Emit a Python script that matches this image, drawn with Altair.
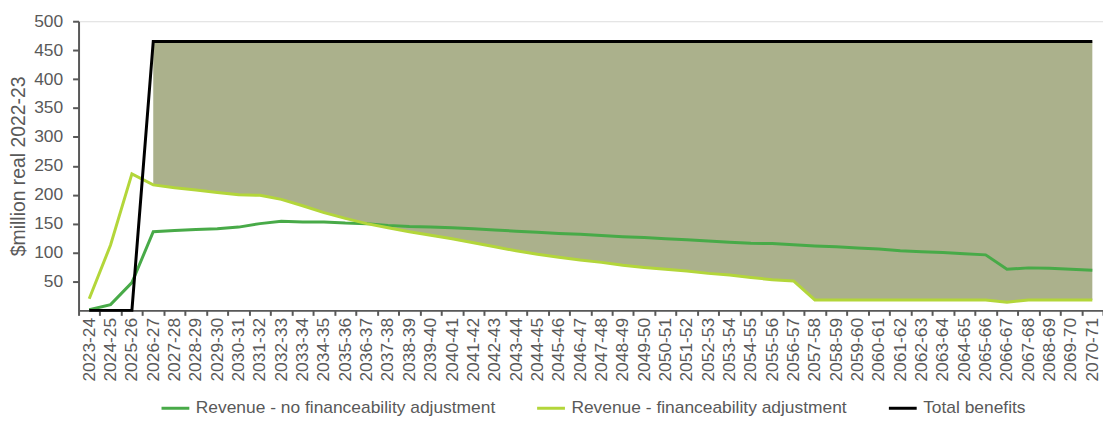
import altair as alt
import pandas as pd

years = [f"{y}-{str(y + 1)[-2:]}" for y in range(2023, 2071)]

no_adj = [1, 10, 48, 136, 138, 140, 141, 144, 150, 154, 153, 153, 151, 150, 147,
          145, 144, 143, 141, 139, 137, 135, 133, 131.5, 129.5, 127.5, 126, 124,
          122, 120, 118, 116, 115.5, 113.5, 111.5, 110, 108, 106, 103, 101.5, 100,
          98, 96, 71, 73.5, 73, 71, 69.5]

fin_adj = [20, 113, 236, 217, 212, 208, 204, 200, 199, 192, 181, 169, 159, 150, 143,
           136, 130, 124, 117, 110, 103, 97, 92, 87, 83, 78, 74, 71, 68, 64, 61, 57,
           53, 51, 18, 18, 18, 18, 18, 18, 18, 18, 18, 14, 18, 18, 18, 18]

total = [0, 0, 0] + [465] * 45

y_ticks = [50, 100, 150, 200, 250, 300, 350, 400, 450, 500]

series_names = ["Revenue - no financeability adjustment",
                "Revenue - financeability adjustment",
                "Total benefits"]
series_colors = ["#48AA48", "#B3D63A", "#000000"]

rows = []
for i, yr in enumerate(years):
    rows.append({"year": yr, "series": series_names[0], "value": no_adj[i], "order": 0})
    rows.append({"year": yr, "series": series_names[1], "value": fin_adj[i], "order": 1})
    rows.append({"year": yr, "series": series_names[2], "value": total[i], "order": 2})
long_df = pd.DataFrame(rows)

area_df = pd.DataFrame({"year": years, "low": fin_adj, "high": total})
area_df = area_df[area_df["high"] > 0]

FONT = "Liberation Sans"
GREY = "#595959"

x_enc = alt.X(
    "year:N", sort=years, bandPosition=0.5,
    scale=alt.Scale(type="band", paddingInner=0, paddingOuter=0, domain=years),
    axis=alt.Axis(title=None, labelAngle=-90, labelFontSize=17.5, labelColor=GREY,
                  labelFont=FONT, tickBand="extent", tickSize=5, tickColor=GREY,
                  tickWidth=2, domainColor=GREY, domainWidth=2, labelPadding=2,
                  labelBaseline="middle", labelAlign="right", labelOverlap=False,
                  grid=False),
)

y_scale = alt.Scale(domain=[0, 500], nice=False, zero=True)
y_axis = alt.Axis(title="$million real 2022-23", values=y_ticks, orient="left",
                  labelOverlap=False, labelFlush=False,
                  labelFontSize=17.5, labelColor=GREY, labelFont=FONT,
                  titleFontSize=19.5, titleColor=GREY, titleFont=FONT,
                  titleFontWeight="normal", titlePadding=5,
                  tickSize=6, tickColor=GREY, tickWidth=2,
                  domainColor=GREY, domainWidth=2, labelPadding=10,
                  grid=False)

area = alt.Chart(area_df).mark_area(color="#ABB18C", opacity=1).encode(
    x=x_enc,
    y=alt.Y("high:Q", scale=y_scale, axis=y_axis),
    y2="low:Q",
)

lines = alt.Chart(long_df).mark_line(strokeWidth=3).encode(
    x=x_enc,
    y=alt.Y("value:Q", scale=y_scale, axis=None),
    color=alt.Color(
        "series:N", sort=series_names,
        scale=alt.Scale(domain=series_names, range=series_colors),
        legend=alt.Legend(title=None, orient="none", direction="horizontal",
                          legendX=82, legendY=374, symbolType="stroke",
                          symbolSize=784, symbolStrokeWidth=3, labelFontSize=17.5,
                          labelFont=FONT, labelColor=GREY, labelLimit=400,
                          labelOffset=5, columnPadding=35, padding=0),
    ),
    order=alt.Order("order:Q"),
)

chart = alt.layer(area, lines).resolve_axis(y="independent").properties(
    width=1031, height=291,
    autosize=alt.AutoSizeParams(type="none"),
    padding={"left": 71, "top": 12, "right": 0, "bottom": 108},
).configure_view(stroke="transparent", strokeWidth=0).configure(font=FONT)

chart.save("out.html", embed_options={"renderer": "svg", "actions": False})
